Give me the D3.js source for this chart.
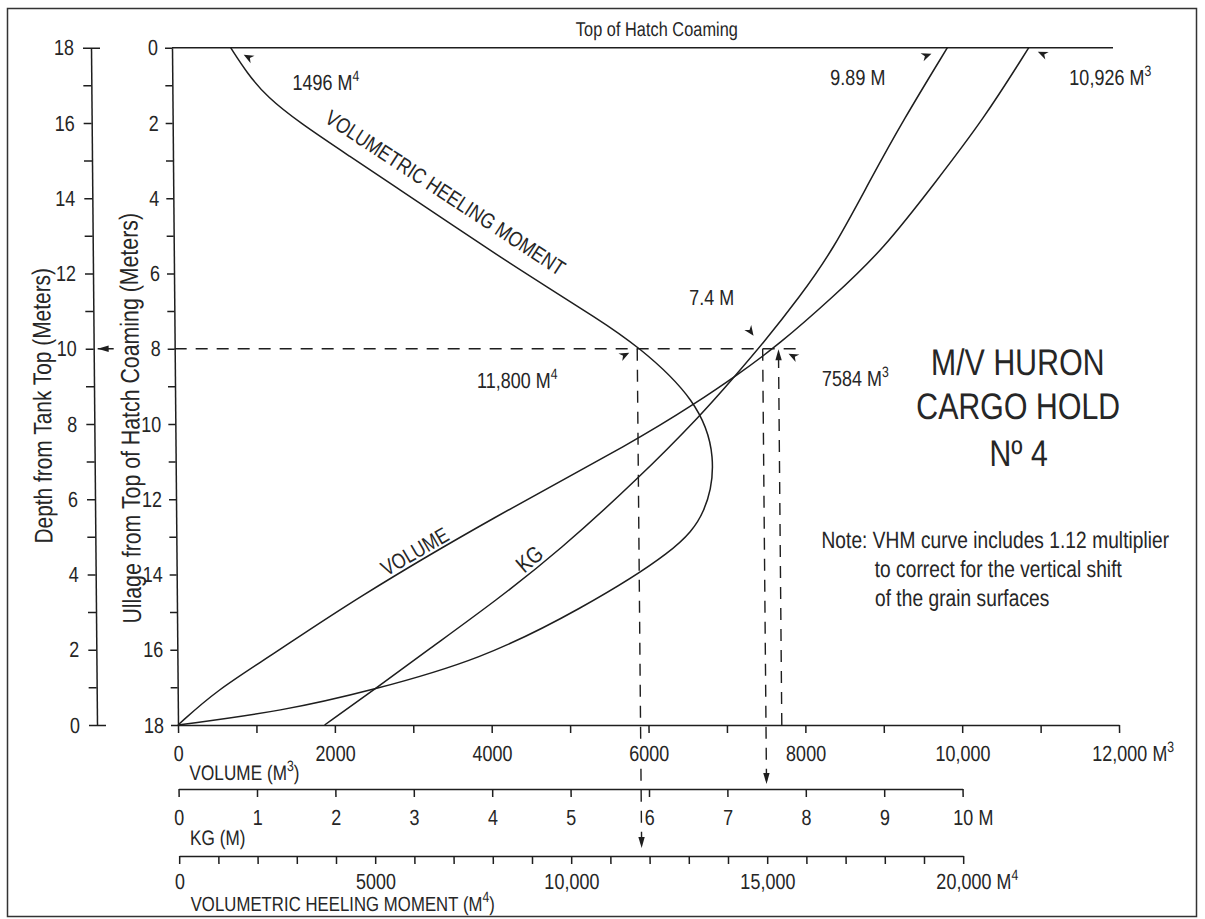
<!DOCTYPE html>
<html>
  <head>
    <meta charset="utf-8">
    <title>M/V Huron cargo hold No 4</title>
    <script src="https://d3js.org/d3.v7.min.js"></script>
    <style>
      body { margin: 0; background: #fff; }
      svg { display: block; font-family: "Liberation Sans", Arial, sans-serif; }
      .curve { fill: none; stroke: #1e1e1e; stroke-width: 1.5; }
      .guide { fill: none; stroke: #1e1e1e; stroke-width: 1.4; stroke-dasharray: 12, 9; }
      .axis path, .axis line { stroke: #1e1e1e; stroke-width: 1.5; }
      .halo { stroke: #fff; stroke-width: 5; paint-order: stroke; stroke-linejoin: round; }
      text { fill: #262626; }
    </style>
  </head>
  <body>
    <svg id="chart" width="1205" height="919"></svg>
    <script>
      // curves: ullage (m) and the matching value
      var vhmUllage = [0, 0.67, 1.31, 2.0, 2.89, 3.78, 4.67, 5.56, 6.41, 7.13, 7.9, 9.36, 10.88, 12.37, 13.35, 14.94, 16.27, 17.07, 17.63, 18];
      var vhmValues = [1496, 1905, 2410, 3245, 4515, 5783, 7051, 8319, 9590, 10680, 11800, 13320, 13810, 13540, 12770, 10280, 7720, 4980, 2680, 0];
      var volUllage = [0, 1.92, 3.52, 5.37, 6.62, 7.87, 8.78, 9.42, 10.43, 12.47, 14.68, 16.14, 17.07, 18];
      var volValues = [10926, 10335, 9740, 9046, 8403, 7720, 7117, 6657, 5887, 4050, 2245, 1210, 500, 0];
      var kgUllage = [0, 1.92, 3.52, 5.37, 6.62, 7.87, 8.78, 9.71, 11.49, 13.35, 14.68, 16.0, 17.07, 18];
      var kgValues = [9.89, 9.32, 8.89, 8.41, 7.98, 7.5, 7.12, 6.73, 5.88, 4.89, 4.08, 3.2, 2.5, 1.87];

      // reading at 8 m ullage (where the dashed lines sit on the scan)
      var readUllage = 8;
      var readVhm = 11800;
      var readKg = 7.5;
      var readVol = 7700;
      var guideEndVol = 7960;

      // ticks
      var ullageTicks = [0, 1, 2, 3, 4, 5, 6, 7, 8, 9, 10, 11, 12, 13, 14, 15, 16, 17, 18];
      var depthTicks = [0, 1, 2, 3, 4, 5, 6, 7, 8, 9, 10, 11, 12, 13, 14, 15, 16, 17, 18];
      var volTicks = [0, 1000, 2000, 3000, 4000, 5000, 6000, 7000, 8000, 9000, 10000, 11000, 12000];
      var volLabels = [0, 2000, 4000, 6000, 8000, 10000, 12000];
      var kgTicks = [0, 1, 2, 3, 4, 5, 6, 7, 8, 9, 10];
      var vhmTicks = [0, 1000, 2000, 3000, 4000, 5000, 6000, 7000, 8000, 9000, 10000, 11000, 12000, 13000, 14000, 15000, 16000, 17000, 18000, 19000, 20000];
      var vhmLabels = [0, 5000, 10000, 15000, 20000];

      var svg = d3.select("#chart");
      svg.append("rect")
        .attr("x", 7.5).attr("y", 8.5)
        .attr("width", 1189).attr("height", 908)
        .attr("fill", "none").attr("stroke", "#333").attr("stroke-width", 1.5);

      // the scan is a little skewed, so is the drawing
      var g = svg.append("g").attr("transform", "translate(-6.42,0) skewX(0.507)");

      var y = d3.scaleLinear().domain([0, 18]).range([47.7, 725]);
      var depth = d3.scaleLinear().domain([18, 0]).range([47.7, 725]);
      var xVol = d3.scaleLinear().domain([0, 12000]).range([178, 1119]);
      var xKg = d3.scaleLinear().domain([0, 10]).range([178, 962]);
      var xVhm = d3.scaleLinear().domain([0, 20000]).range([178, 962]);
      var outerX = 97;
      var kgY = 789, vhmY = 856;
      var squeeze = 0.82; // the lettering on the scan is condensed

      var fmt = d3.format(",");
      function styleAxis(sel, size) {
        sel.attr("font-family", null).attr("font-size", size).attr("class", "axis");
        sel.selectAll("text").attr("fill", "#262626");
      }
      function addUnit(sel, unit, sup) {
        var t = sel.select(".tick:last-of-type text");
        var w = t.node().getComputedTextLength();
        t.attr("text-anchor", "start").attr("x", -w / 2);
        t.append("tspan").text(" " + unit);
        if (sup) t.append("tspan").attr("dy", -9).attr("font-size", 15).text(sup);
      }
      function narrow(sel) {
        sel.each(function() {
          var t = d3.select(this);
          [this].concat(t.selectAll("tspan").nodes()).forEach(function(n) {
            var x = n.getAttribute("x");
            if (x !== null && x !== "") n.setAttribute("x", (+x) / squeeze);
          });
          var tr = t.attr("transform");
          t.attr("transform", (tr ? tr + " " : "") + "scale(" + squeeze + ",1)");
        });
      }

      // reading guides at 8 m (drawn first, the labels sit over them)
      var y8 = y(readUllage);
      g.append("line").attr("class", "guide")
        .attr("x1", xVol(0)).attr("x2", xVol(guideEndVol)).attr("y1", y8).attr("y2", y8);
      g.append("line").attr("class", "guide")
        .attr("x1", xVhm(readVhm)).attr("x2", xVhm(readVhm)).attr("y1", y8).attr("y2", vhmY - 10);
      g.append("line").attr("class", "guide")
        .attr("x1", xKg(readKg)).attr("x2", xKg(readKg)).attr("y1", y8).attr("y2", kgY - 8);
      g.append("line").attr("class", "guide")
        .attr("x1", xVol(readVol)).attr("x2", xVol(readVol)).attr("y1", y(18)).attr("y2", y8 + 6);

      // top of hatch coaming
      g.append("line")
        .attr("x1", xVol(0)).attr("x2", xVol(12000))
        .attr("y1", y(0)).attr("y2", y(0))
        .attr("stroke", "#1e1e1e").attr("stroke-width", 1.5);
      g.append("text")
        .attr("x", 663).attr("y", 36)
        .attr("text-anchor", "middle").attr("font-size", 20)
        .text("Top of Hatch Coaming");

      // ullage axis
      var ullageAxis = g.append("g")
        .attr("transform", "translate(" + xVol(0) + ",0)")
        .call(d3.axisLeft(y).tickValues(ullageTicks).tickSize(7).tickSizeOuter(0).tickPadding(7)
          .tickFormat(function(d) { return d % 2 === 0 ? d : ""; }));
      styleAxis(ullageAxis, 22);

      // depth from tank top axis
      var depthAxis = g.append("g")
        .attr("transform", "translate(" + outerX + ",0)")
        .call(d3.axisLeft(depth).tickValues(depthTicks).tickSize(8).tickSizeOuter(0).tickPadding(9)
          .tickFormat(function(d) { return d % 2 === 0 ? d : ""; }));
      styleAxis(depthAxis, 22);
      depthAxis.selectAll(".tick").filter(function(d) { return d === 0 || d === 18; })
        .append("line").attr("x1", 0).attr("x2", 9).attr("stroke", "#1e1e1e");

      // bottom scales
      var volAxis = g.append("g")
        .attr("transform", "translate(0," + y(18) + ")")
        .call(d3.axisBottom(xVol).tickValues(volTicks).tickSize(8).tickSizeOuter(0).tickPadding(12)
          .tickFormat(function(d) { return volLabels.indexOf(d) >= 0 ? (d >= 10000 ? fmt(d) : d) : ""; }));
      styleAxis(volAxis, 22);

      var kgAxis = g.append("g")
        .attr("transform", "translate(0," + kgY + ")")
        .call(d3.axisBottom(xKg).tickValues(kgTicks).tickSize(8).tickSizeOuter(0).tickPadding(12));
      styleAxis(kgAxis, 22);

      var vhmAxis = g.append("g")
        .attr("transform", "translate(0," + vhmY + ")")
        .call(d3.axisBottom(xVhm).tickValues(vhmTicks).tickSize(8).tickSizeOuter(0).tickPadding(9)
          .tickFormat(function(d) { return vhmLabels.indexOf(d) >= 0 ? (d >= 10000 ? fmt(d) : d) : ""; }));
      styleAxis(vhmAxis, 22);
      g.selectAll(".axis .tick text").classed("halo", true);

      // axis titles
      function supLabel(x, yy, size, before, sup, after) {
        var t = g.append("text").attr("x", x).attr("y", yy).attr("font-size", size);
        t.append("tspan").text(before);
        t.append("tspan").attr("dy", -9).attr("font-size", 15).text(sup);
        if (after) t.append("tspan").attr("dy", 9).text(after);
        return t;
      }
      supLabel(189, 780, 21, "VOLUME (M", "3", ")");
      g.append("text").attr("x", 189).attr("y", 845).attr("font-size", 21).text("KG (M)");
      supLabel(189, 911, 20.5, "VOLUMETRIC HEELING MOMENT (M", "4", ")");

      g.append("text")
        .attr("transform", "translate(54,268) rotate(-90)")
        .attr("text-anchor", "end").attr("font-size", 25.5)
        .text("Depth from Tank Top (Meters)");
      g.append("text")
        .attr("transform", "translate(142,213) rotate(-90)")
        .attr("text-anchor", "end").attr("font-size", 26)
        .text("Ullage from Top of Hatch Coaming (Meters)");

      // curves
      function zip(us, vs) { return us.map(function(u, i) { return { u: u, v: vs[i] }; }); }
      function curve(data, x) {
        return d3.line()
          .x(function(d) { return x(d.v); })
          .y(function(d) { return y(d.u); })
          .curve(d3.curveBasis)(data);
      }
      g.append("path").attr("class", "curve").attr("d", curve(zip(vhmUllage, vhmValues), xVhm));
      g.append("path").attr("class", "curve").attr("d", curve(zip(volUllage, volValues), xVol));
      g.append("path").attr("class", "curve").attr("d", curve(zip(kgUllage, kgValues), xKg));

      // curve names
      g.append("text")
        .attr("transform", "translate(446,199) rotate(33.5)")
        .attr("text-anchor", "middle").attr("font-size", 21.5)
        .text("VOLUMETRIC HEELING MOMENT");
      g.append("text")
        .attr("transform", "translate(420,558) rotate(-30)")
        .attr("text-anchor", "middle").attr("font-size", 21.5)
        .text("VOLUME");
      g.append("text")
        .attr("transform", "translate(536,565) rotate(-40)")
        .attr("text-anchor", "middle").attr("font-size", 23)
        .text("KG");

      function arrow(x, yy, angle) {
        g.append("path")
          .attr("d", "M0,0L-11,-3.2L-11,3.2Z")
          .attr("fill", "#1e1e1e")
          .attr("transform", "translate(" + x + "," + yy + ") rotate(" + angle + ")");
      }
      arrow(xVhm(readVhm), vhmY - 8, 90);
      arrow(xKg(readKg), kgY - 5, 90);
      arrow(xVol(readVol), y8 + 0.5, -90);
      arrow(outerX + 4, depth(10), 180);
      g.append("line")
        .attr("x1", outerX + 4).attr("x2", outerX + 20)
        .attr("y1", depth(10)).attr("y2", depth(10))
        .attr("stroke", "#1e1e1e").attr("stroke-width", 1.4);

      // small pointers at the read values
      function pointer(tx, ty, dx, dy) {
        var a = Math.atan2(-dy, -dx) * 180 / Math.PI;
        g.append("path")
          .attr("d", "M0,0L-10,-4.2L-7,0L-10,4.2Z")
          .attr("fill", "#1e1e1e")
          .attr("transform", "translate(" + (tx + dx) + "," + (ty + dy) + ") rotate(" + a + ")");
      }
      pointer(xVhm(vhmValues[0]), y(0), 13, 7);
      pointer(xKg(kgValues[0]), y(0), -16, 6);
      pointer(xVol(volValues[0]), y(0), 9, 4);
      pointer(xKg(readKg), y8, -9, -13);
      pointer(xVhm(readVhm), y8, -8, 4);
      pointer(xVol(readVol), y8, 10, 5);

      // value labels
      var labels = [
        { x: 298, y: 90, text: "1496 M", sup: "4" },
        { x: 836, y: 85, text: "9.89 M" },
        { x: 1075, y: 85, text: "10,926 M", sup: "3" },
        { x: 693, y: 305, text: "7.4 M" },
        { x: 480, y: 388, text: "11,800 M", sup: "4" },
        { x: 825, y: 386, text: "7584 M", sup: "3" }
      ];
      labels.forEach(function(d) {
        if (d.sup) supLabel(d.x, d.y, 22, d.text, d.sup);
        else g.append("text").attr("x", d.x).attr("y", d.y).attr("font-size", 22).text(d.text);
      });

      // title and note
      var title = g.append("text").attr("text-anchor", "middle").attr("font-size", 37);
      title.append("tspan").attr("x", 1021).attr("y", 375).text("M/V HURON");
      title.append("tspan").attr("x", 1021).attr("y", 419).text("CARGO HOLD");
      title.append("tspan").attr("x", 1021).attr("y", 466).text("N\u00BA 4");

      var note = g.append("text").attr("font-size", 23.5);
      note.append("tspan").attr("x", 823).attr("y", 548).text("Note: VHM curve includes 1.12 multiplier");
      note.append("tspan").attr("x", 876).attr("y", 577).text("to correct for the vertical shift");
      note.append("tspan").attr("x", 876).attr("y", 606).text("of the grain surfaces");

      // condense all lettering, then hang the units on the last ticks
      narrow(g.selectAll("text"));
      addUnit(volAxis, "M", "3");
      addUnit(kgAxis, "M");
      addUnit(vhmAxis, "M", "4");
    </script>
  </body>
</html>
